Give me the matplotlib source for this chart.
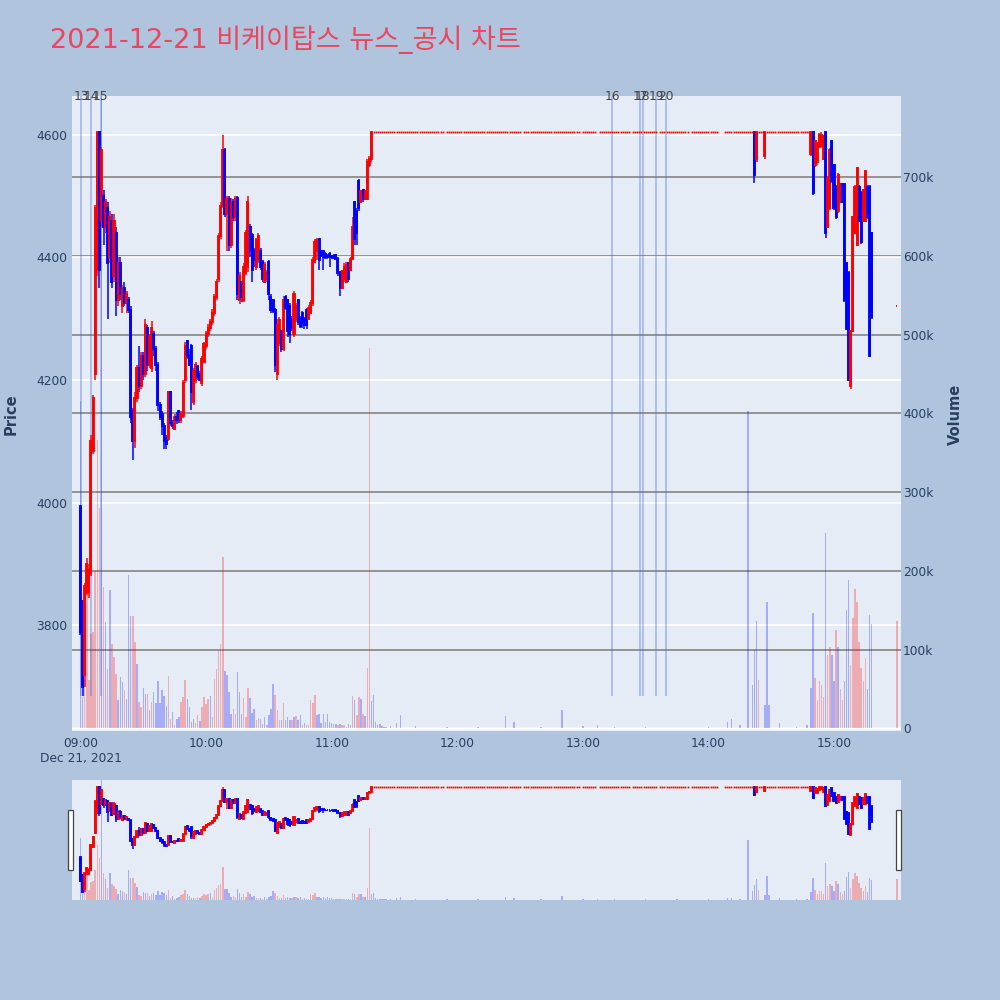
import matplotlib
matplotlib.use("Agg")
import matplotlib.pyplot as plt
from matplotlib.transforms import blended_transform_factory
from matplotlib.patches import Rectangle
from matplotlib.ticker import FuncFormatter, FixedLocator

# ------------------------------------------------------------------ data
TITLE = "2021-12-21 비케이탑스 뉴스_공시 차트"

# Morning candles: one per minute, minute 0 = 09:00 ... minute 139 = 11:19
am_open = [3995, 3840, 3720, 3855, 3855, 3885, 4085, 4210, 4380, 4605,
           4460, 4500, 4450, 4480, 4400, 4460, 4370, 4440, 4330, 4390,
           4320, 4350, 4325, 4330, 4315, 4150, 4100, 4170, 4220, 4190,
           4240, 4210, 4285, 4225, 4220, 4275, 4250, 4225, 4160, 4145,
           4125, 4105, 4104, 4180, 4130, 4120, 4140, 4150, 4135, 4141,
           4200, 4263, 4240, 4255, 4165, 4200, 4222, 4210, 4195, 4230,
           4255, 4275, 4285, 4295, 4310, 4335, 4364, 4435, 4483, 4575,
           4470, 4495, 4420, 4490, 4465, 4497, 4330, 4360, 4330, 4375,
           4385, 4450, 4437, 4410, 4385, 4395, 4410, 4392, 4360, 4365,
           4392, 4335, 4330, 4315, 4210, 4260, 4280, 4250, 4335, 4330,
           4320, 4300, 4275, 4300, 4330, 4300, 4310, 4300, 4315, 4300,
           4310, 4325, 4392, 4410, 4430, 4410, 4410, 4405, 4402, 4405,
           4402, 4402, 4404, 4398, 4376, 4350, 4365, 4360, 4390, 4380,
           4397, 4490, 4475, 4525, 4490, 4510, 4495, 4495, 4550, 4560]
am_high = [3995, 3840, 3870, 3910, 3900, 4110, 4176, 4485, 4605, 4605,
           4580, 4510, 4495, 4490, 4475, 4470, 4470, 4450, 4400, 4400,
           4355, 4360, 4345, 4335, 4320, 4155, 4180, 4225, 4255, 4245,
           4245, 4300, 4290, 4275, 4296, 4280, 4255, 4230, 4165, 4150,
           4130, 4110, 4182, 4182, 4135, 4145, 4148, 4152, 4150, 4200,
           4262, 4265, 4250, 4258, 4220, 4230, 4225, 4215, 4240, 4262,
           4280, 4292, 4300, 4316, 4340, 4364, 4440, 4490, 4600, 4578,
           4500, 4500, 4497, 4495, 4500, 4500, 4376, 4362, 4390, 4445,
           4500, 4455, 4440, 4415, 4432, 4440, 4415, 4395, 4392, 4380,
           4395, 4340, 4332, 4318, 4300, 4302, 4282, 4337, 4338, 4332,
           4325, 4305, 4345, 4325, 4332, 4305, 4312, 4302, 4318, 4322,
           4330, 4400, 4430, 4432, 4432, 4412, 4412, 4408, 4405, 4408,
           4404, 4405, 4406, 4400, 4378, 4380, 4390, 4392, 4392, 4400,
           4465, 4492, 4480, 4527, 4510, 4512, 4510, 4560, 4565, 4605]
am_low = [3785, 3685, 3700, 3850, 3845, 3880, 4080, 4200, 4370, 4350,
          4450, 4420, 4440, 4300, 4390, 4350, 4360, 4305, 4320, 4330,
          4310, 4320, 4310, 4310, 4130, 4070, 4090, 4165, 4180, 4185,
          4200, 4205, 4215, 4220, 4213, 4240, 4215, 4150, 4135, 4110,
          4088, 4088, 4100, 4125, 4120, 4118, 4128, 4130, 4130, 4138,
          4195, 4235, 4223, 4152, 4160, 4195, 4200, 4198, 4190, 4228,
          4250, 4270, 4280, 4290, 4305, 4330, 4360, 4430, 4480, 4465,
          4410, 4410, 4415, 4460, 4460, 4330, 4324, 4328, 4328, 4372,
          4376, 4400, 4360, 4385, 4380, 4390, 4380, 4360, 4358, 4360,
          4330, 4310, 4310, 4213, 4200, 4255, 4245, 4248, 4315, 4270,
          4260, 4280, 4270, 4295, 4290, 4285, 4285, 4283, 4283, 4298,
          4308, 4320, 4390, 4395, 4380, 4400, 4380, 4398, 4398, 4385,
          4398, 4398, 4395, 4370, 4337, 4348, 4360, 4358, 4360, 4378,
          4395, 4420, 4420, 4475, 4488, 4490, 4493, 4493, 4548, 4555]
am_close = [3790, 3700, 3865, 3900, 3890, 4100, 4170, 4480, 4605, 4380,
            4575, 4450, 4490, 4390, 4465, 4360, 4460, 4330, 4390, 4340,
            4350, 4325, 4340, 4315, 4140, 4100, 4170, 4220, 4190, 4240,
            4210, 4290, 4225, 4270, 4285, 4250, 4225, 4160, 4140, 4125,
            4100, 4095, 4180, 4130, 4125, 4140, 4135, 4135, 4145, 4195,
            4255, 4240, 4225, 4180, 4215, 4225, 4205, 4200, 4235, 4258,
            4275, 4285, 4295, 4310, 4335, 4360, 4435, 4483, 4575, 4470,
            4495, 4420, 4490, 4465, 4495, 4340, 4370, 4335, 4385, 4440,
            4490, 4410, 4380, 4395, 4428, 4435, 4385, 4365, 4388, 4375,
            4340, 4315, 4312, 4225, 4290, 4298, 4250, 4330, 4318, 4280,
            4275, 4285, 4340, 4320, 4295, 4288, 4292, 4290, 4290, 4318,
            4325, 4395, 4425, 4428, 4395, 4402, 4400, 4400, 4400, 4400,
            4400, 4399, 4398, 4375, 4350, 4378, 4385, 4388, 4365, 4398,
            4450, 4430, 4440, 4480, 4508, 4495, 4508, 4555, 4560, 4605]

# Upper-limit prints (single-price minutes), as inclusive runs of minutes
LIMIT_PRICE = 4605
limit_runs = [(140, 173), (175, 210), (212, 238), (240, 246), (248, 262),
              (264, 275), (277, 290), (292, 304), (308, 321), (324, 326),
              (328, 348)]

# Afternoon candles (minutes after 09:00)
pm_min = [322, 323, 327, 349, 350, 351, 352, 353, 354, 355, 356, 357, 358,
          359, 360, 361, 362, 363, 364, 365, 366, 367, 368, 369, 370, 371,
          372, 373, 374, 375, 376, 377, 378, 390]
pm_open = [4605, 4560, 4565, 4568, 4605, 4550, 4555, 4580, 4582, 4560, 4605,
           4450, 4480, 4590, 4550, 4515, 4475, 4490, 4520, 4520, 4390, 4375,
           4190, 4280, 4440, 4420, 4515, 4505, 4460, 4460, 4515, 4515, 4440,
           4320]
pm_high = [4605, 4605, 4605, 4605, 4605, 4592, 4588, 4602, 4605, 4600, 4605,
           4532, 4578, 4592, 4552, 4518, 4538, 4522, 4522, 4522, 4392, 4378,
           4282, 4467, 4518, 4548, 4518, 4508, 4512, 4542, 4518, 4518, 4442,
           4320]
pm_low = [4522, 4555, 4560, 4565, 4502, 4548, 4550, 4578, 4580, 4558, 4432,
          4448, 4478, 4522, 4478, 4463, 4472, 4488, 4488, 4328, 4281, 4198,
          4185, 4278, 4438, 4418, 4458, 4422, 4458, 4458, 4463, 4238, 4300,
          4320]
pm_close = [4535, 4605, 4605, 4605, 4505, 4590, 4585, 4600, 4600, 4598, 4440,
            4530, 4575, 4525, 4480, 4465, 4535, 4520, 4490, 4330, 4283, 4200,
            4280, 4465, 4515, 4545, 4460, 4425, 4510, 4540, 4465, 4240, 4302,
            4320]

# Volume (thousand shares), minutes 0..153 then sparse minutes
vol_am_k = [415, 40, 61, 179, 61, 120, 122, 200, 366, 280, 900,
            179, 135, 75, 176, 107, 91, 69, 36, 65, 59,
            49, 37, 195, 143, 143, 110, 82, 33, 27, 51,
            44, 44, 23, 34, 46, 32, 60, 32, 49, 41,
            29, 66, 12, 21, 5, 12, 14, 33, 40, 62,
            38, 27, 8, 12, 7, 17, 10, 27, 40, 31,
            37, 41, 14, 63, 76, 100, 107, 218, 73, 68,
            46, 18, 25, 19, 72, 46, 19, 39, 15, 51,
            39, 20, 25, 11, 13, 12, 6, 14, 5, 17,
            25, 56, 43, 23, 11, 11, 32, 11, 15, 11,
            11, 15, 16, 11, 17, 5, 7, 4, 4, 36,
            32, 42, 17, 19, 7, 19, 8, 19, 8, 7,
            6, 6, 4, 6, 5, 5, 2, 6, 4, 41,
            36, 17, 40, 37, 19, 16, 77, 483, 35, 42,
            8, 5, 6, 3, 2, 2, 0, 3, 0, 0, 7, 0, 17]
vol_am_dir = list("BBRRRRRRRRB" "RBRBRRRBBB" "RBBBRRBRRB" "BRBRBBBBBB"
                  "BRRBRBBRRR" "BBBBRRBRRR" "RBRRRRRRBB" "BBRRBBBRRR"
                  "BBBRRBBBRB" "BBRRRBRBBB" "RBRBBRBRRR" "RRBBBBBBBB"
                  "BBRBRRBBRR" "BRRBRBRRBB" "BBBBBBBBBBBBB")
vol_pm_min = [160, 175, 190, 203, 207, 220, 230, 240, 247, 255, 270, 285,
              300, 309, 311, 315, 319, 321, 322, 323, 324, 327, 328, 329,
              334, 342, 347,
              349, 350, 351, 352, 353, 354, 355, 356, 357, 358, 359, 360,
              361, 362, 363, 364, 365, 366, 367, 368, 369, 370, 371, 372,
              373, 374, 375, 376, 377, 378, 390]
vol_pm_k = [3, 2, 2, 16, 8, 2, 24, 3, 4, 2, 2, 1,
            2, 8, 12, 4, 403, 55, 100, 137, 61, 30, 161, 30,
            7, 2, 5,
            52, 146, 64, 36, 60, 55, 40, 248, 93, 104, 93, 60,
            125, 103, 50, 36, 60, 150, 188, 80, 140, 177, 160, 110,
            77, 60, 90, 50, 144, 133, 137]
vol_pm_dir = list("BBBBBBBBBBBB" "BBBBBBBBRBBB" "BBB"
                  "BBRRRRRBRRBB" "RBRRBBBRRRRR" "RRRBBBR")

# News markers
news_time = ["09:00:24", "09:05:12", "09:09:40", "13:13:55",
             "13:27:20", "13:28:40", "13:34:55", "13:39:40"]
news_label = ["13", "14", "15", "16", "17", "18", "19", "20"]

tick_minutes = [0, 60, 120, 180, 240, 300, 360]
tick_labels = ["09:00\nDec 21, 2021", "10:00", "11:00", "12:00",
               "13:00", "14:00", "15:00"]
price_ticks = [3800, 4000, 4200, 4400, 4600]
volume_ticks_k = [0, 100, 200, 300, 400, 500, 600, 700]

# ------------------------------------------------------------------ style
FIG_BG = "#B0C4DE"
PLOT_BG = "#E5ECF6"
INC = "#FF0000"
DEC = "#0000FF"
VOL_R = (1.0, 0.0, 0.0, 0.27)
VOL_B = (0.0, 0.0, 1.0, 0.27)
TXT = "#2a3f5f"
X_RANGE = (-4.06, 392.0)
P_RANGE = (3628, 4663)
V_RANGE = (-3.2, 802.7)

plt.rcParams['font.family'] = ['DejaVu Sans', 'Noto Sans CJK KR']


def to_min(s):
    h, m, sec = [int(v) for v in s.split(":")]
    return (h - 9) * 60 + m + sec / 60.0


am_min = list(range(len(am_open)))
limit_min = [m for a, b in limit_runs for m in range(a, b + 1)]
limit_val = [LIMIT_PRICE for _ in limit_min]
vol_all_min = list(range(len(vol_am_k))) + vol_pm_min
vol_all_k = vol_am_k + vol_pm_k
vol_all_col = [VOL_R if d == "R" else VOL_B for d in vol_am_dir + vol_pm_dir]
c_min = am_min + pm_min
c_open = am_open + pm_open
c_high = am_high + pm_high
c_low = am_low + pm_low
c_close = am_close + pm_close
news_x = [to_min(s) for s in news_time]


def draw_panel(ax_v, ax_p, main=True):
    ax_v.set_facecolor(PLOT_BG)
    for a in (ax_v, ax_p):
        for s in a.spines.values():
            s.set_visible(False)
    ax_v.set_xlim(*X_RANGE)
    ax_v.set_ylim(*V_RANGE)
    ax_p.set_ylim(*P_RANGE)
    ax_v.set_axisbelow(True)
    if main:
        ax_v.yaxis.set_major_locator(FixedLocator(volume_ticks_k))
        ax_v.grid(axis="y", color="#8c8c8c", linewidth=1.3, zorder=0.5)
        bt = blended_transform_factory(ax_v.transAxes, ax_p.transData)
        for p in price_ticks:
            ax_v.plot([0, 1], [p, p], transform=bt, color="white",
                      linewidth=1.2, zorder=0.6)
        ax_v.axhline(0, color="white", linewidth=2.0, zorder=0.7)
    # volume
    ax_v.bar(vol_all_min, vol_all_k, width=0.7, color=vol_all_col,
             linewidth=0, zorder=1)
    # news lines
    if main:
        ax_p.vlines(news_x, min(c_low), P_RANGE[1],
                    colors=[(0.25, 0.41, 0.88, 0.45)], linewidth=1.1,
                    zorder=1)
    # candles
    cols = [INC if c >= o else DEC for o, c in zip(c_open, c_close)]
    ax_p.vlines(c_min, c_low, c_high, colors=cols, linewidth=1.1, zorder=3)
    bottoms = [min(o, c) for o, c in zip(c_open, c_close)]
    heights = [max(abs(c - o), 1.5) for o, c in zip(c_open, c_close)]
    ax_p.bar(c_min, heights, bottom=bottoms, width=0.5, color=cols,
             edgecolor=cols, linewidth=1.35, zorder=3)
    # single-price (upper limit) prints shown as small dashes
    ax_p.plot(limit_min, limit_val, linestyle="none", marker="s",
              markersize=1.25, markeredgewidth=0, color=INC, zorder=3)


fig = plt.figure(figsize=(10, 10), dpi=100, facecolor=FIG_BG)

# main panel
ax_v = fig.add_axes([0.072, 0.269, 0.829, 0.635])
ax_p = ax_v.twinx()
draw_panel(ax_v, ax_p, main=True)

ax_v.yaxis.tick_right()
ax_v.yaxis.set_major_formatter(FuncFormatter(
    lambda v, _: "0" if v == 0 else f"{int(v)}k"))
ax_v.tick_params(axis="y", length=0, pad=1.5, labelsize=8.8, labelcolor=TXT,
                 left=False, labelleft=False, right=False, labelright=True)
ax_p.yaxis.tick_left()
ax_p.yaxis.set_major_locator(FixedLocator(price_ticks))
ax_p.tick_params(axis="y", length=0, pad=3.5, labelsize=8.8, labelcolor=TXT,
                 right=False, labelright=False, left=False, labelleft=True)
ax_v.xaxis.set_major_locator(FixedLocator(tick_minutes))
ax_v.set_xticklabels(tick_labels)
ax_v.tick_params(axis="x", length=0, pad=4, labelsize=8.8, labelcolor=TXT)

# news labels
bt_news = blended_transform_factory(ax_p.transData, ax_p.transAxes)
for x, lab in zip(news_x, news_label):
    ax_p.text(x, 1.0, lab, transform=bt_news, ha="center", va="center",
              fontsize=8.8, color="#444444", clip_on=False, zorder=5)

fig.text(0.011, 0.586, "Price", rotation=90, ha="center", va="center",
         fontsize=10.5, fontweight="bold", color=TXT)
fig.text(0.955, 0.586, "Volume", rotation=90, ha="center", va="center",
         fontsize=10.5, fontweight="bold", color=TXT)

# range slider
ax_sv = fig.add_axes([0.072, 0.100, 0.829, 0.120])
ax_sp = ax_sv.twinx()
draw_panel(ax_sv, ax_sp, main=False)
for a in (ax_sv, ax_sp):
    a.set_xticks([])
    a.set_yticks([])
for xh in (0.068, 0.896):
    fig.patches.append(Rectangle((xh, 0.130), 0.0045, 0.060,
                                 transform=fig.transFigure, facecolor="white",
                                 edgecolor="#444444", linewidth=0.9,
                                 zorder=10))

fig.text(0.050, 0.960, TITLE, ha="left", va="center", fontsize=19.5,
         color="#E8475F")

fig.savefig("out.png", dpi=100, facecolor=FIG_BG)
